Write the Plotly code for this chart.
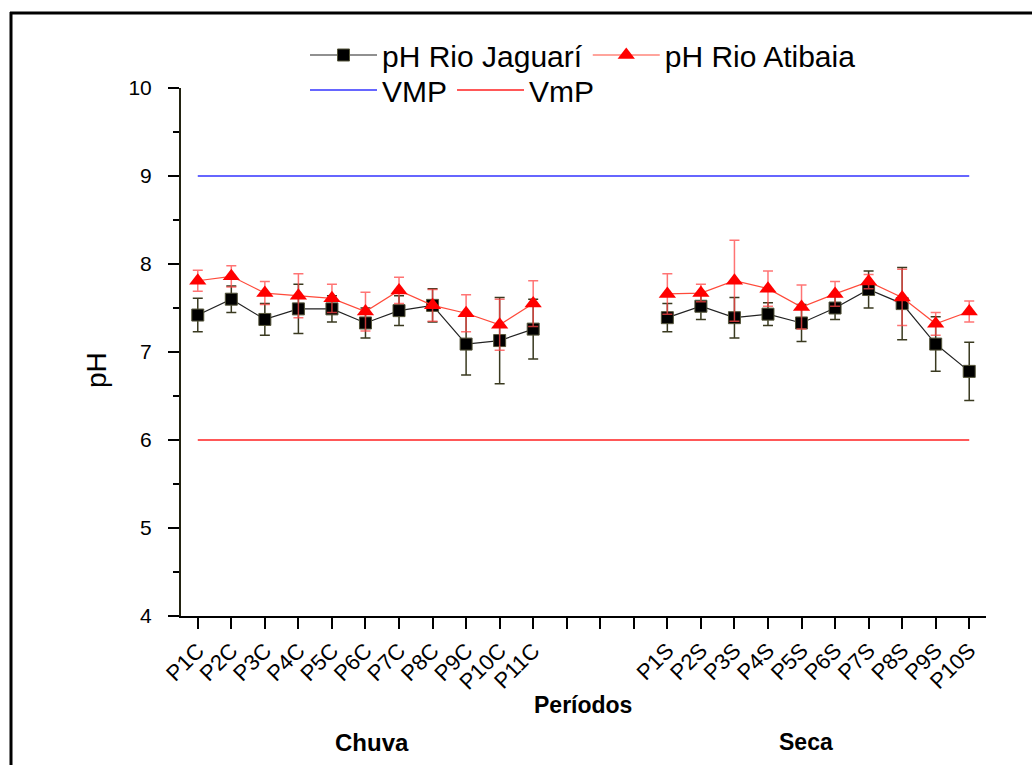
import plotly.graph_objects as go

# Sampling points: rainy season (Chuva) and dry season (Seca)
chuva_labels = ["P1C", "P2C", "P3C", "P4C", "P5C", "P6C", "P7C", "P8C", "P9C", "P10C", "P11C"]
seca_labels = ["P1S", "P2S", "P3S", "P4S", "P5S", "P6S", "P7S", "P8S", "P9S", "P10S"]
gap_labels = ["", "", ""]

# pH means and standard deviations, Rio Jaguarí
jag_chuva = [7.42, 7.60, 7.37, 7.49, 7.49, 7.33, 7.47, 7.53, 7.09, 7.13, 7.26]
jag_chuva_sd = [0.19, 0.15, 0.18, 0.28, 0.15, 0.17, 0.17, 0.19, 0.35, 0.49, 0.34]
jag_seca = [7.39, 7.52, 7.39, 7.43, 7.33, 7.50, 7.71, 7.55, 7.09, 6.78]
jag_seca_sd = [0.16, 0.15, 0.23, 0.13, 0.21, 0.13, 0.21, 0.41, 0.31, 0.33]

# pH means and standard deviations, Rio Atibaia
ati_chuva = [7.81, 7.86, 7.67, 7.64, 7.61, 7.46, 7.70, 7.53, 7.44, 7.31, 7.55]
ati_chuva_sd = [0.12, 0.12, 0.13, 0.25, 0.16, 0.22, 0.15, 0.18, 0.21, 0.29, 0.26]
ati_seca = [7.66, 7.67, 7.81, 7.72, 7.51, 7.66, 7.80, 7.62, 7.32, 7.46]
ati_seca_sd = [0.23, 0.10, 0.46, 0.20, 0.25, 0.14, 0.08, 0.32, 0.13, 0.12]

# Limits: maximum (VMP) and minimum (VmP) permitted values
vmp = 9
vmin = 6

categories = chuva_labels + gap_labels + seca_labels
x_idx = list(range(len(categories)))
none_gap = [None] * len(gap_labels)

jag = jag_chuva + none_gap + jag_seca
jag_sd = jag_chuva_sd + none_gap + jag_seca_sd
ati = ati_chuva + none_gap + ati_seca
ati_sd = ati_chuva_sd + none_gap + ati_seca_sd

FONT = "Arial, Liberation Sans, sans-serif"

W, H = 1032, 765
L, R, T, B = 181, 986, 88, 616


def px_x(p):
    return (p - L) / (R - L)


def px_y(p):
    return (B - p) / (B - T)


fig = go.Figure()

fig.add_trace(go.Scatter(
    x=[x_idx[0], x_idx[-1]], y=[vmp, vmp], mode="lines", name="VMP",
    line=dict(color="#3333ff", width=1.5), legend="legend2",
))
fig.add_trace(go.Scatter(
    x=[x_idx[0], x_idx[-1]], y=[vmin, vmin], mode="lines", name="VmP",
    line=dict(color="#ff2020", width=1.5), legend="legend2",
))
fig.add_trace(go.Scatter(
    x=x_idx, y=jag, mode="lines+markers", name="pH Rio Jaguarí",
    line=dict(color="#222222", width=1.2),
    marker=dict(symbol="square", size=12, color="black", line=dict(color="#55553a", width=1)),
    error_y=dict(type="data", array=jag_sd, visible=True, color="#3a3a20", thickness=1.5, width=5),
    connectgaps=False, legend="legend",
))
fig.add_trace(go.Scatter(
    x=x_idx, y=ati, mode="lines+markers", name="pH Rio Atibaia",
    line=dict(color="#ff4a3a", width=1.2),
    marker=dict(symbol="triangle-up", size=15, color="#ff0000", line=dict(width=0)),
    error_y=dict(type="data", array=ati_sd, visible=True, color="rgba(255,70,70,0.75)", thickness=1.5, width=5),
    connectgaps=False, legend="legend",
))


def label(text, xp, yp, size, angle=0):
    return dict(text=text, x=px_x(xp), y=px_y(yp), xref="paper", yref="paper", showarrow=False,
                xanchor="center", yanchor="middle", textangle=angle,
                font=dict(family=FONT, size=size, color="black"))


annotations = [
    label("pH", 96, 370, 28, angle=-90),
    label("<b>Períodos</b>", 583, 705, 23),
    label("<b>Chuva</b>", 372, 742, 24),
    label("<b>Seca</b>", 806, 742, 23),
]

shapes = [
    dict(type="line", xref="paper", yref="paper", x0=px_x(11), x1=px_x(11), y0=px_y(12), y1=px_y(770),
         line=dict(color="black", width=3)),
    dict(type="line", xref="paper", yref="paper", x0=px_x(10), x1=px_x(1040), y0=px_y(13), y1=px_y(13),
         line=dict(color="black", width=3)),
]

legend_font = dict(family=FONT, size=30, color="black")

fig.update_layout(
    width=W, height=H,
    margin=dict(l=L, r=W - R, t=T, b=H - B),
    paper_bgcolor="white", plot_bgcolor="white",
    font=dict(family=FONT, size=20, color="black"),
    showlegend=True,
    legend=dict(orientation="h", x=px_x(305), y=px_y(55),
                xanchor="left", yanchor="middle", font=legend_font, itemwidth=67,
                bgcolor="rgba(0,0,0,0)", traceorder="normal"),
    legend2=dict(orientation="h", x=px_x(305), y=px_y(90),
                 xanchor="left", yanchor="middle", font=legend_font, itemwidth=67,
                 bgcolor="rgba(0,0,0,0)", traceorder="normal"),
    annotations=annotations,
    shapes=shapes,
    xaxis=dict(
        range=[-0.5, len(categories) - 0.5],
        tickmode="array", tickvals=x_idx, ticktext=categories, tickangle=-45,
        ticks="outside", ticklen=11, tickwidth=2, tickcolor="black",
        showline=True, linecolor="black", linewidth=2,
        showgrid=False, zeroline=False,
        tickfont=dict(family=FONT, size=22, color="black"),
    ),
    yaxis=dict(
        range=[4, 10], tickvals=[4, 5, 6, 7, 8, 9, 10],
        ticks="outside", ticklen=11, tickwidth=2, tickcolor="black",
        minor=dict(tickvals=[4.5, 5.5, 6.5, 7.5, 8.5, 9.5], ticks="outside", ticklen=6,
                   tickwidth=2, tickcolor="black"),
        showline=True, linecolor="#222211", linewidth=2,
        showgrid=False, zeroline=False, ticklabelstandoff=12,
        tickfont=dict(family=FONT, size=21, color="black"),
    ),
)

fig.write_html("out.html")
